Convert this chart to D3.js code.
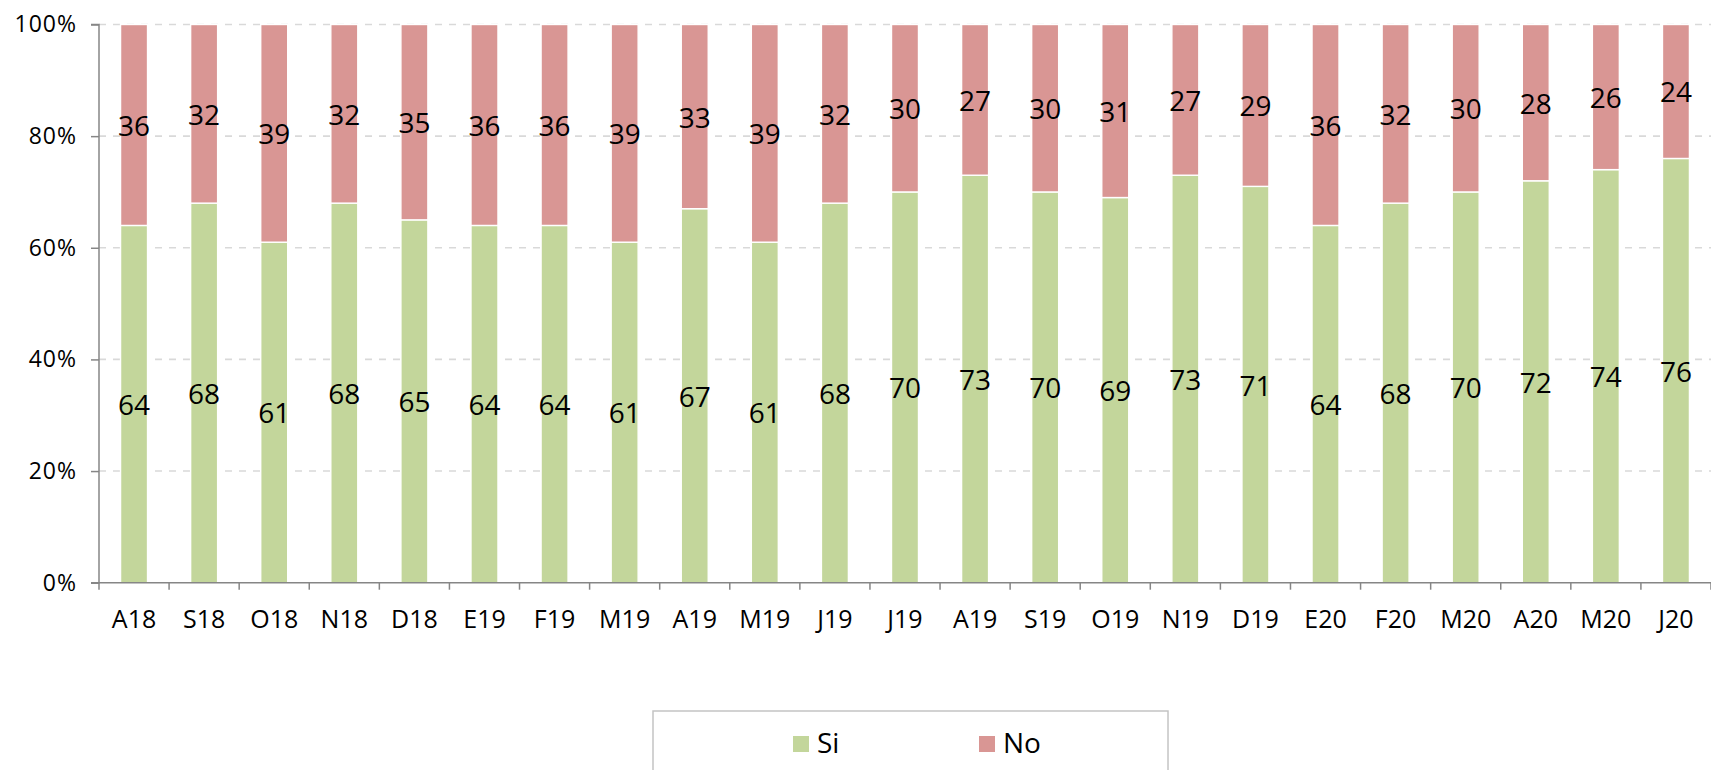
<!DOCTYPE html>
<html>
<head>
<meta charset="utf-8">
<script src="https://cdn.jsdelivr.net/npm/d3@7"></script>
<style>
  html, body { margin: 0; padding: 0; background: #fff; }
  svg { display: block; font-family: "Open Sans", sans-serif; }
</style>
</head>
<body>
<svg id="chart" width="1711" height="770"></svg>
<script>
const categories = ["A18","S18","O18","N18","D18","E19","F19","M19","A19","M19","J19","J19","A19","S19","O19","N19","D19","E20","F20","M20","A20","M20","J20"];
const siValues = [64,68,61,68,65,64,64,61,67,61,68,70,73,70,69,73,71,64,68,70,72,74,76];
const noValues = [36,32,39,32,35,36,36,39,33,39,32,30,27,30,31,27,29,36,32,30,28,26,24];
const yTicks = [0,20,40,60,80,100];
const seriesNames = ["Si","No"];
const seriesColors = ["#c3d69b","#d99694"];

const svg = d3.select("#chart");
const pLeft = 99, pRight = 1711, pTop = 24.5, pBottom = 582.7;

const idx = categories.map((d,i)=>i);
const x = d3.scaleBand().domain(idx).range([pLeft, pRight]).paddingInner(0.615).paddingOuter(0.3075);
const y = d3.scaleLinear().domain([0,100]).range([pBottom, pTop]);

// gridlines
svg.append("g").selectAll("line").data(yTicks.filter(d=>d>0)).join("line")
  .attr("x1", pLeft).attr("x2", pRight)
  .attr("y1", d=>y(d)).attr("y2", d=>y(d))
  .attr("stroke", "#d9d9d9").attr("stroke-width", 1.6)
  .attr("stroke-dasharray", "7,7");

// stacked data
const rows = idx.map(i => ({i, Si: siValues[i], No: noValues[i]}));
const stack = d3.stack().keys(seriesNames)(rows);

const g = svg.append("g");
stack.forEach((layer, k) => {
  g.append("g").selectAll("rect").data(layer).join("rect")
    .attr("x", d => x(d.data.i))
    .attr("width", x.bandwidth())
    .attr("y", d => y(d[1]))
    .attr("height", d => y(d[0]) - y(d[1]))
    .attr("fill", seriesColors[k])
    .attr("stroke", "#ffffff").attr("stroke-width", 1.4);
});

// data labels
stack.forEach((layer, k) => {
  g.append("g").selectAll("text").data(layer).join("text")
    .attr("x", d => x(d.data.i) + x.bandwidth()/2)
    .attr("y", d => y((d[0]+d[1])/2))
    .attr("text-anchor", "middle")
    .attr("dominant-baseline", "central")
    .attr("font-size", 28)
    .attr("fill", "#000")
    .text(d => d.data[seriesNames[k]]);
});

// y axis
const yAxis = svg.append("g").attr("transform", `translate(${pLeft},0)`)
  .call(d3.axisLeft(y).tickValues(yTicks).tickSize(8).tickPadding(14).tickFormat(d => d + "%"));
yAxis.select(".domain").attr("stroke", "#868686").attr("stroke-width", 1.5).attr("d", `M-8,${y(100)}H0V${y(0)}H-8`);
yAxis.selectAll(".tick line").attr("stroke", "#868686").attr("stroke-width", 1.5);
yAxis.selectAll("text").attr("font-size", 23).attr("letter-spacing", 1).attr("fill", "#000").attr("font-family", "Open Sans, sans-serif");

// x axis baseline and ticks
const xg = svg.append("g");
xg.append("line").attr("x1", pLeft - 8).attr("x2", pRight).attr("y1", pBottom).attr("y2", pBottom)
  .attr("stroke", "#868686").attr("stroke-width", 1.5);
const boundaries = d3.range(categories.length + 1);
xg.selectAll("line.t").data(boundaries).join("line").attr("class","t")
  .attr("x1", d => pLeft + d * x.step()).attr("x2", d => pLeft + d * x.step())
  .attr("y1", pBottom).attr("y2", pBottom + 7)
  .attr("stroke", "#868686").attr("stroke-width", 1.5);
xg.selectAll("text").data(idx).join("text")
  .attr("x", d => x(d) + x.bandwidth()/2)
  .attr("y", 618)
  .attr("text-anchor", "middle")
  .attr("dominant-baseline", "central")
  .attr("font-size", 25)
  .attr("fill", "#000")
  .text(d => categories[d]);

// legend
const lg = svg.append("g");
lg.append("rect").attr("x", 653).attr("y", 711).attr("width", 515).attr("height", 80)
  .attr("fill", "#fff").attr("stroke", "#c4c4c4").attr("stroke-width", 1.5);
const legendX = [793, 979];
seriesNames.forEach((name, k) => {
  lg.append("rect").attr("x", legendX[k]).attr("y", 736).attr("width", 16).attr("height", 16)
    .attr("fill", seriesColors[k]);
  lg.append("text").attr("x", legendX[k] + 24).attr("y", 753)
    .attr("font-size", 28).attr("fill", "#000")
    .text(name);
});
</script>
</body>
</html>
